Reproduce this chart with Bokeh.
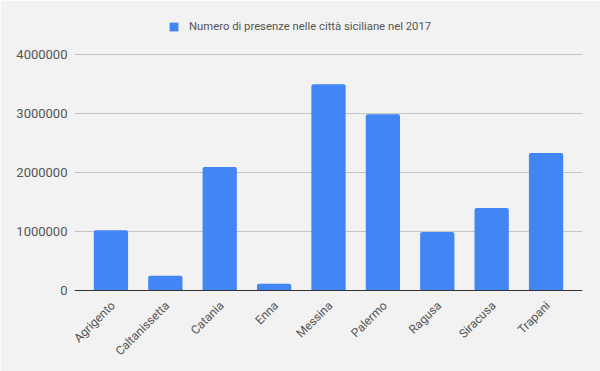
from math import pi
from bokeh.plotting import figure
from bokeh.models import (ColumnDataSource, FactorRange, Range1d, FixedTicker,
                          BasicTickFormatter, Legend, LegendItem, Span)
from bokeh.core.properties import value
from bokeh.embed import file_html
from bokeh.resources import INLINE

cities = ["Agrigento", "Caltanissetta", "Catania", "Enna", "Messina",
          "Palermo", "Ragusa", "Siracusa", "Trapani"]
presenze = [1020000, 250000, 2090000, 115000, 3490000,
            2980000, 990000, 1395000, 2325000]
series_name = "Numero di presenze nelle città siciliane nel 2017"
y_ticks = [0, 1000000, 2000000, 3000000, 4000000]

BG = "#f2f2f2"
W, H = 600, 371
source = ColumnDataSource(data=dict(city=cities, value=presenze,
                                    base=[0] * len(cities)))

# layout in screen pixels: frame covers legend area (top) and label area (bottom)
FRAME_TOP, GRID_TOP, BASE_Y = 10, 53.5, 290
k = (BASE_Y - GRID_TOP) / y_ticks[-1]          # pixels per unit
y_end = y_ticks[-1] + (GRID_TOP - FRAME_TOP) / k
y_start = -(H - BASE_Y) / k

p = figure(width=W, height=H, output_backend="svg", toolbar_location=None,
           x_range=FactorRange(factors=cities, range_padding=0.17,
                               range_padding_units="absolute"),
           y_range=Range1d(y_start, y_end))
p.background_fill_color = BG
p.border_fill_color = BG
p.outline_line_color = None
p.min_border_left = 74
p.min_border_right = 18
p.min_border_top = FRAME_TOP
p.min_border_bottom = 0

r = p.vbar(x="city", top="value", width=0.63, source=source,
           fill_color="#4285f4", line_color=None,
           border_radius=(2, 2, 0, 0))

p.xgrid.grid_line_color = None
p.ygrid.grid_line_color = "#c4c4c4"
p.ygrid.ticker = FixedTicker(ticks=y_ticks)

p.add_layout(Span(location=0, dimension="width", line_color="#333333",
                  line_width=1.2))

# category labels, right-aligned at each bar centre and rotated 45 degrees
p.text(x="city", y="base", text="city", source=source, angle=pi / 4,
       text_align="right", text_baseline="middle",
       x_offset=2, y_offset=13,
       text_font=value("Roboto"), text_font_size="12px", text_color="#555555")

p.xaxis.visible = False

p.yaxis.ticker = FixedTicker(ticks=y_ticks)
p.yaxis.formatter = BasicTickFormatter(use_scientific=False)
p.yaxis.axis_line_color = None
p.yaxis.major_tick_line_color = None
p.yaxis.minor_tick_line_color = None
p.yaxis.major_tick_out = 0
p.yaxis.major_tick_in = 0
p.yaxis.minor_tick_out = 0
p.yaxis.major_label_text_font = "Roboto"
p.yaxis.major_label_text_font_size = "13px"
p.yaxis.major_label_text_color = "#555555"
p.yaxis.major_label_standoff = 7

legend = Legend(items=[LegendItem(label=series_name, renderers=[r])],
                location=(94, H - 33 - 0), orientation="horizontal",
                glyph_width=11, glyph_height=11, label_standoff=10,
                padding=0, margin=0, spacing=0,
                border_line_color=None, background_fill_alpha=0,
                label_text_font="Roboto", label_text_font_size="11.3px",
                label_text_color="#555555")
p.add_layout(legend, "center")

open("out.html", "w").write(file_html(p, INLINE))
